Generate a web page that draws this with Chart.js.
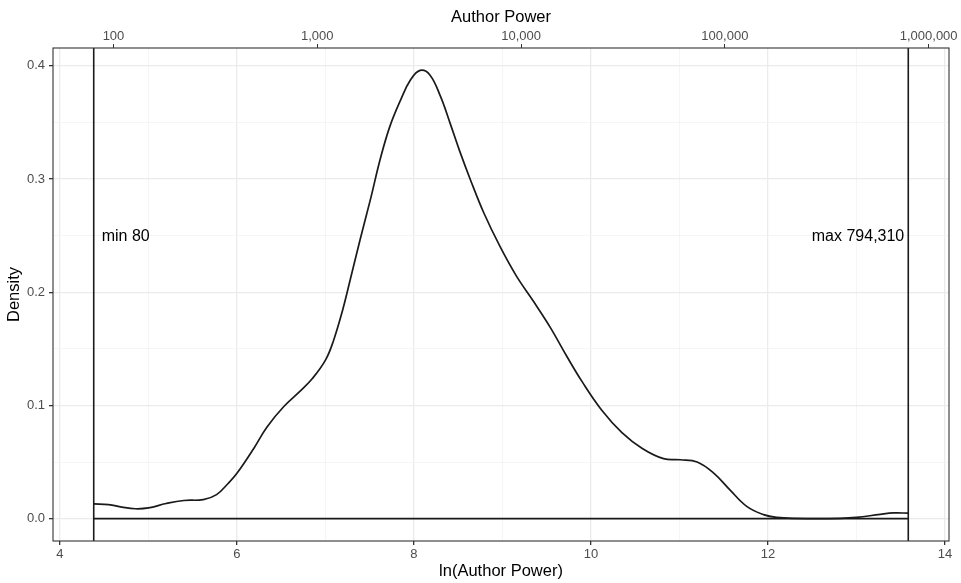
<!DOCTYPE html>
<html>
<head>
<meta charset="utf-8">
<script src="https://cdn.jsdelivr.net/npm/chart.js@4.4.1/dist/chart.umd.min.js"></script>
<style>
  body { margin: 0; background: #fff; }
  #wrap { width: 961px; height: 583px; position: relative; }
</style>
</head>
<body>
<div id="wrap"><canvas id="chart"></canvas></div>
<script>
// ln(Author Power) density
const densityX = [4.382, 4.55, 4.70, 4.85, 5.00, 5.20, 5.40, 5.62, 5.77, 5.90, 6.00, 6.19, 6.34, 6.53, 6.72, 6.85,
    7.00, 7.09, 7.19, 7.28, 7.39, 7.51, 7.62, 7.73, 7.85, 7.96, 8.07, 8.18, 8.30, 8.41, 8.52, 8.64, 8.79, 8.975,
    9.16, 9.35, 9.54, 9.73, 9.90, 10.12, 10.35, 10.58, 10.82, 11.01, 11.20, 11.39, 11.57, 11.76, 11.95, 12.10,
    12.30, 12.82, 13.00, 13.27, 13.42, 13.585];
const densityY = [0.0130, 0.0124, 0.0102, 0.0087, 0.0094, 0.0133, 0.0160, 0.0168, 0.0212, 0.031, 0.040, 0.062, 0.081, 0.099, 0.113, 0.1235,
    0.140, 0.157, 0.183, 0.211, 0.246, 0.2825, 0.318, 0.347, 0.370, 0.3875, 0.396, 0.392, 0.373, 0.349, 0.324, 0.299, 0.270, 0.240,
    0.214, 0.192, 0.169, 0.143, 0.121, 0.096, 0.0760, 0.0620, 0.0530, 0.0520, 0.0500, 0.0400, 0.0254, 0.0108, 0.0035, 0.0010,
    0.0002, 0.0002, 0.0010, 0.0038, 0.0050, 0.0048];

const bottomTicks = [4, 5, 6, 7, 8, 9, 10, 11, 12, 13, 14];
const yTicks = [0, 0.05, 0.1, 0.15, 0.2, 0.25, 0.3, 0.35, 0.4];
const topTickPowers = [100, 1000, 10000, 100000, 1000000];

const minPower = 80;
const maxPower = 794310;
const labelDensity = 0.25;

const lnMin = Math.log(minPower);
const lnMax = Math.log(maxPower);
const xPad = (lnMax - lnMin) * 0.05;
const yTop = Math.max(...densityY);
const yPad = yTop * 0.05;

const tickFont = { family: '"Liberation Sans", Arial, sans-serif', size: 13 };
const titleFont = { family: '"Liberation Sans", Arial, sans-serif', size: 16.5 };

const isMajorX = v => Math.abs(v % 2) < 1e-6;
const isMajorY = v => Math.abs(v * 10 - Math.round(v * 10)) < 1e-6;

const panelPlugin = {
    id: "panel",
    afterDatasetsDraw(chart) {
        const ctx = chart.ctx;
        const area = chart.chartArea;
        const xs = chart.scales.x;
        const ys = chart.scales.y;
        ctx.save();

        // min / max lines
        ctx.strokeStyle = "#1a1a1a";
        ctx.lineWidth = 1.6;
        [lnMin, lnMax].forEach(v => {
            const px = xs.getPixelForValue(v);
            ctx.beginPath();
            ctx.moveTo(px, area.top);
            ctx.lineTo(px, area.bottom);
            ctx.stroke();
        });

        // labels
        ctx.fillStyle = "#000";
        ctx.font = '16px "Liberation Sans", Arial, sans-serif';
        ctx.textBaseline = "middle";
        const ly = ys.getPixelForValue(labelDensity) + 1;
        ctx.textAlign = "left";
        ctx.fillText("min " + minPower.toLocaleString("en-US"), xs.getPixelForValue(lnMin) + 8, ly);
        ctx.textAlign = "right";
        ctx.fillText("max " + maxPower.toLocaleString("en-US"), xs.getPixelForValue(lnMax) - 4, ly);

        // panel border
        ctx.strokeStyle = "#333";
        ctx.lineWidth = 1.1;
        ctx.strokeRect(area.left, area.top, area.right - area.left, area.bottom - area.top);
        ctx.restore();
    }
};

new Chart(document.getElementById("chart"), {
    type: "scatter",
    data: {
        datasets: [
            {
                data: densityX.map((x, i) => ({ x: x, y: densityY[i] })),
                showLine: true,
                borderColor: "#1a1a1a",
                borderWidth: 1.7,
                pointRadius: 0,
                tension: 0.4,
                xAxisID: "x",
                yAxisID: "y"
            },
            {
                data: [{ x: lnMin, y: 0 }, { x: lnMax, y: 0 }],
                showLine: true,
                borderColor: "#1a1a1a",
                borderWidth: 1.7,
                pointRadius: 0,
                xAxisID: "x",
                yAxisID: "y"
            }
        ]
    },
    options: {
        responsive: true,
        maintainAspectRatio: false,
        animation: false,
        events: [],
        layout: { padding: { left: 0, right: 12, top: 0, bottom: 0 } },
        plugins: {
            legend: { display: false },
            tooltip: { enabled: false }
        },
        scales: {
            x: {
                type: "linear",
                position: "bottom",
                min: lnMin - xPad,
                max: lnMax + xPad,
                afterBuildTicks: axis => { axis.ticks = bottomTicks.map(v => ({ value: v })); },
                afterFit: axis => { axis.height = 42; },
                border: { display: false },
                grid: {
                    color: c => isMajorX(c.tick.value) ? "#EBEBEB" : "#F2F2F2",
                    lineWidth: c => isMajorX(c.tick.value) ? 1.3 : 0.8,
                    tickColor: c => isMajorX(c.tick.value) ? "#333" : "rgba(0,0,0,0)",
                    tickLength: 4
                },
                ticks: {
                    autoSkip: false,
                    maxRotation: 0,
                    padding: 2,
                    color: "#4D4D4D",
                    font: tickFont,
                    callback: v => isMajorX(v) ? String(v) : ""
                },
                title: {
                    display: true,
                    text: "ln(Author Power)",
                    color: "#000",
                    font: titleFont,
                    padding: { top: 0, bottom: 2 }
                }
            },
            x2: {
                type: "linear",
                position: "top",
                min: lnMin - xPad,
                max: lnMax + xPad,
                afterBuildTicks: axis => { axis.ticks = topTickPowers.map(p => ({ value: Math.log(p) })); },
                afterFit: axis => { axis.height = 48; },
                border: { display: false },
                grid: {
                    drawOnChartArea: false,
                    tickColor: "#333",
                    tickLength: 4
                },
                ticks: {
                    autoSkip: false,
                    maxRotation: 0,
                    padding: 0,
                    color: "#4D4D4D",
                    font: tickFont,
                    callback: v => Math.round(Math.exp(v)).toLocaleString("en-US")
                },
                title: {
                    display: true,
                    text: "Author Power",
                    color: "#000",
                    font: titleFont,
                    padding: { top: 8, bottom: 0 }
                }
            },
            y: {
                type: "linear",
                min: -yPad,
                max: yTop + yPad,
                afterBuildTicks: axis => { axis.ticks = yTicks.map(v => ({ value: v })); },
                afterFit: axis => { axis.width = 53; },
                border: { display: false },
                grid: {
                    color: c => isMajorY(c.tick.value) ? "#EBEBEB" : "#F2F2F2",
                    lineWidth: c => isMajorY(c.tick.value) ? 1.3 : 0.8,
                    tickColor: c => isMajorY(c.tick.value) ? "#333" : "rgba(0,0,0,0)",
                    tickLength: 4
                },
                ticks: {
                    autoSkip: false,
                    padding: 4,
                    color: "#4D4D4D",
                    font: tickFont,
                    callback: v => isMajorY(v) ? v.toFixed(1) : ""
                },
                title: {
                    display: true,
                    text: "Density",
                    color: "#000",
                    font: titleFont,
                    padding: { top: 5, bottom: 0 }
                }
            }
        }
    },
    plugins: [panelPlugin]
});
</script>
</body>
</html>
